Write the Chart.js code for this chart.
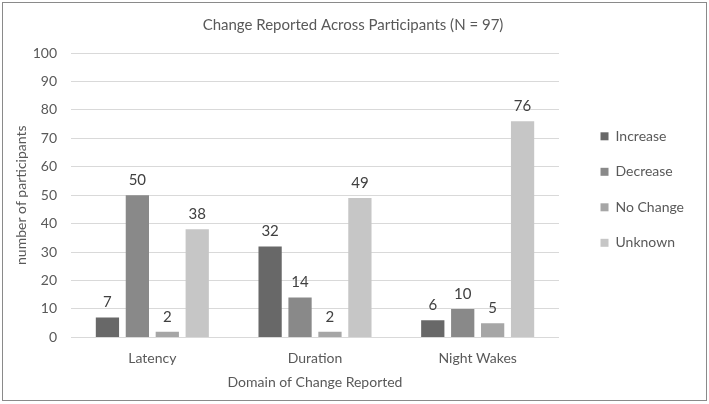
<!DOCTYPE html>
<html>
<head>
<meta charset="utf-8">
<script src="https://cdn.jsdelivr.net/npm/chart.js@4"></script>
<style>
html,body{margin:0;padding:0;background:#fff;}
#wrap{position:absolute;left:2px;top:2px;width:705px;height:399px;border:1px solid #8a8a8a;box-sizing:border-box;background:#fff;}
canvas{display:block;}
</style>
</head>
<body>
<div id="wrap"><canvas id="c" width="703" height="397"></canvas></div>
<script>
const categories = ["Latency", "Duration", "Night Wakes"];
const increase = [7, 32, 6];
const decrease = [50, 14, 10];
const noChange = [2, 2, 5];
const unknown = [38, 49, 76];
const yTicks = [0, 10, 20, 30, 40, 50, 60, 70, 80, 90, 100];

const FONT = "Lato, 'Open Sans', sans-serif";
const TXT = "#595959";
const LEGEND_GAP = 20;

const valueLabels = {
  id: "valueLabels",
  afterDatasetsDraw(chart) {
    const ctx = chart.ctx;
    ctx.save();
    ctx.font = "15px " + FONT;
    ctx.fillStyle = "#404040";
    ctx.textAlign = "center";
    ctx.textBaseline = "middle";
    chart.data.datasets.forEach((ds, i) => {
      const meta = chart.getDatasetMeta(i);
      meta.data.forEach((bar, j) => {
        ctx.fillText(String(ds.data[j]), bar.x, bar.y - 15);
      });
    });
    ctx.restore();
  }
};

const legendGap = {
  id: "legendGap",
  beforeLayout(chart) {
    const lg = chart.legend;
    if (lg && !lg._gapWrapped) {
      const fit = lg.fit;
      lg.fit = function () { fit.call(this); this.width += LEGEND_GAP; };
      lg._gapWrapped = true;
    }
  },
  afterLayout(chart) {
    if (chart.legend) chart.legend.left += LEGEND_GAP;
  }
};

new Chart(document.getElementById("c"), {
  type: "bar",
  data: {
    labels: categories,
    datasets: [
      { label: "Increase", data: increase, backgroundColor: "#686868" },
      { label: "Decrease", data: decrease, backgroundColor: "#898989" },
      { label: "No Change", data: noChange, backgroundColor: "#a6a6a6" },
      { label: "Unknown", data: unknown, backgroundColor: "#c6c6c6" }
    ]
  },
  options: {
    responsive: false,
    animation: false,
    devicePixelRatio: 1,
    categoryPercentage: 0.736,
    barPercentage: 0.777,
    layout: { padding: { left: 9, right: 12, top: 4, bottom: 9 } },
    plugins: {
      title: {
        display: true,
        text: "Change Reported Across Participants (N = 97)",
        color: TXT,
        font: { family: FONT, size: 15, weight: "normal" },
        padding: { top: 9, bottom: 19 }
      },
      legend: {
        position: "right",
        align: "start",
        title: {
          display: true,
          text: " ",
          font: { family: FONT, size: 14 },
          padding: { top: 0, bottom: 84 }
        },
        labels: {
          color: TXT,
          font: { family: FONT, size: 14 },
          boxWidth: 8,
          boxHeight: 8,
          padding: 21.5
        }
      },
      tooltip: { enabled: false }
    },
    scales: {
      x: {
        grid: { display: false },
        border: { display: false },
        ticks: { color: TXT, font: { family: FONT, size: 14 }, padding: 5 },
        title: {
          display: true,
          text: "Domain of Change Reported",
          color: TXT,
          font: { family: FONT, size: 14 },
          padding: { top: 2, bottom: 0 }
        }
      },
      y: {
        min: 0,
        max: 100,
        afterBuildTicks(axis) { axis.ticks = yTicks.map(v => ({ value: v })); },
        afterFit(axis) { axis.width = 59; },
        grid: { color: "#d9d9d9", drawTicks: false },
        border: { display: false },
        ticks: { color: TXT, font: { family: FONT, size: 14 }, padding: 14 },
        title: {
          display: true,
          text: "number of participants",
          color: TXT,
          font: { family: FONT, size: 14 },
          padding: { top: 1, bottom: 4 }
        }
      }
    }
  },
  plugins: [valueLabels, legendGap]
});
</script>
</body>
</html>
